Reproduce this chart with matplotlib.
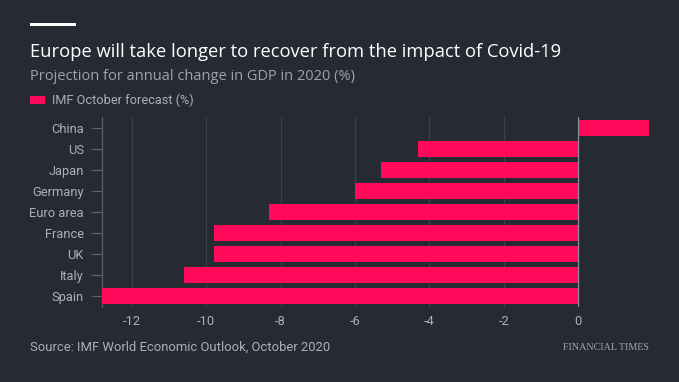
import matplotlib
matplotlib.use("Agg")
import matplotlib.pyplot as plt
from matplotlib.patches import Rectangle

countries = ["China", "US", "Japan", "Germany", "Euro area", "France", "UK", "Italy", "Spain"]
gdp_2020 = [1.9, -4.3, -5.3, -6.0, -8.3, -9.8, -9.8, -10.6, -12.8]
xticks = [-12, -10, -8, -6, -4, -2, 0]
xtick_labels = ["-12", "-10", "-8", "-6", "-4", "-2", "0"]

BG = "#262a33"
BAR = "#ff0a5a"
GRID = "#3c4049"
TXT = "#aeb0b5"
FONT = "Roboto"

W, H = 679, 382
fig = plt.figure(figsize=(W / 100, H / 100), dpi=100, facecolor=BG)

def fx(px):
    return px / W

def fy(py):
    return 1 - py / H

ax_left, ax_right, ax_top, ax_bottom = 102, 649, 117, 307
ax = fig.add_axes([fx(ax_left), fy(ax_bottom), fx(ax_right - ax_left), (ax_bottom - ax_top) / H])
ax.set_facecolor(BG)

ypos = list(range(len(countries)))
ax.barh(ypos, gdp_2020, height=0.8, color=BAR, zorder=3)
ax.set_ylim(len(countries) - 0.48, -0.52)
ax.set_xlim(-12.8, 1.9)

ax.set_xticks(xticks)
ax.set_xticklabels(xtick_labels)
ax.set_yticks(ypos)
ax.set_yticklabels(countries)

for t in xticks:
    if t == 0:
        ax.axvline(t, color="#8c8f95", lw=0.9, zorder=4)
    else:
        ax.axvline(t, color=GRID, lw=0.9, zorder=1)

for s in ["top", "right", "bottom"]:
    ax.spines[s].set_visible(False)
ax.spines["left"].set_color("#5d6069")
ax.spines["left"].set_linewidth(0.9)

ax.tick_params(axis="x", length=0, pad=6, labelsize=9.3, labelcolor=TXT)
ax.tick_params(axis="y", length=8, width=0.9, color="#5d6069", pad=5, labelsize=9.3, labelcolor=TXT)
for lab in ax.get_xticklabels() + ax.get_yticklabels():
    lab.set_fontfamily(FONT)

# top white rule
fig.patches.append(Rectangle((fx(30), fy(26)), fx(46), 3 / H, transform=fig.transFigure,
                             facecolor="white", edgecolor="none"))

fig.text(fx(30), fy(52), "Europe will take longer to recover from the impact of Covid-19",
         color="white", fontsize=13.2, fontfamily="Open Sans", va="center", ha="left")
fig.text(fx(30), fy(77), "Projection for annual change in GDP in 2020 (%)",
         color="#9fa2a8", fontsize=10.5, fontfamily="Open Sans", va="center", ha="left")

fig.patches.append(Rectangle((fx(30), fy(104)), fx(15), 8 / H, transform=fig.transFigure,
                             facecolor=BAR, edgecolor="none"))
fig.text(fx(52), fy(100), "IMF October forecast (%)", color=TXT, fontsize=9.2,
         fontfamily=FONT, va="center", ha="left")

fig.text(fx(30), fy(347), "Source: IMF World Economic Outlook, October 2020",
         color=TXT, fontsize=9.4, fontfamily=FONT, va="center", ha="left")
fig.text(fx(649), fy(347), "FINANCIAL TIMES", color="#a3a5aa", fontsize=7.2,
         fontfamily="Liberation Serif", va="center", ha="right")

fig.savefig("out.png", dpi=100, facecolor=BG)
